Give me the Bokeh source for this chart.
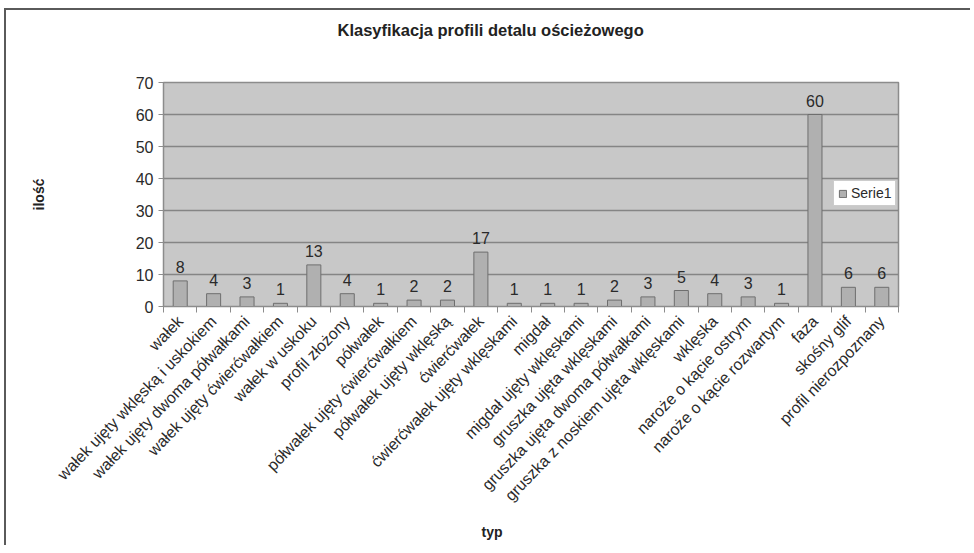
import math
from bokeh.plotting import figure
from bokeh.models import (ColumnDataSource, FixedTicker, Range1d, Legend, LegendItem, Title)
from bokeh.embed import file_html
from bokeh.resources import INLINE

categories = [
    "wałek", "wałek ujęty wklęską i uskokiem", "wałek ujęty dwoma półwałkami",
    "wałek ujęty ćwierćwałkiem", "wałek w uskoku", "profil złożony", "półwałek",
    "półwałek ujęty ćwierćwałkiem", "półwałek ujęty wklęską", "ćwierćwałek",
    "ćwierćwałek ujęty wklęskami", "migdał", "migdał ujęty wklęskami",
    "gruszka ujęta wklęskami", "gruszka ujęta dwoma półwałkami",
    "gruszka z noskiem ujęta wklęskami", "wklęska", "naroże o kącie ostrym",
    "naroże o kącie rozwartym", "faza", "skośny glif", "profil nierozpoznany",
]
values = [8, 4, 3, 1, 13, 4, 1, 2, 2, 17, 1, 1, 1, 2, 3, 5, 4, 3, 1, 60, 6, 6]
y_ticks = [0, 10, 20, 30, 40, 50, 60, 70]
series_name = "Serie1"
title_text = "Klasyfikacja profili detalu ościeżowego"
x_title = "typ"
y_title = "ilość"

FONT = "Liberation Sans"
n = len(categories)
centers = [i + 0.5 for i in range(n)]
bounds = list(range(n + 1))

src = ColumnDataSource(dict(x=centers, top=values, lab=[str(v) for v in values]))

p = figure(width=966, height=537, output_backend="svg", toolbar_location=None,
           x_range=Range1d(0, n), y_range=Range1d(0, 70),
           min_border_left=157, min_border_right=74, min_border_top=72, min_border_bottom=241)
p.styles = {"margin-left": "4px", "margin-top": "8px",
            "border-top": "2px solid #5a5a5a", "border-left": "2px solid #5a5a5a"}
p.background_fill_color = "#c8c8c8"
p.border_fill_color = "white"
p.outline_line_color = "#8c8c8c"
p.outline_line_width = 1.5

# title: spacer panel next to the frame, then the title itself further out
p.title = None
p.add_layout(Title(text=" ", standoff=26, text_font=FONT, text_font_size="10px"), "above")
p.add_layout(Title(text=title_text, align="left", offset=174, standoff=10,
                   text_font=FONT, text_font_size="16.5px", text_font_style="bold",
                   text_color="#222222"), "above")
p.add_layout(Title(text=x_title, align="left", offset=318, standoff=16,
                   text_font=FONT, text_font_size="14px", text_font_style="bold",
                   text_color="#222222"), "below")

p.xgrid.visible = False
p.ygrid.ticker = FixedTicker(ticks=y_ticks)
p.ygrid.grid_line_color = "#858585"
p.ygrid.grid_line_width = 1.5

r = p.vbar(x="x", top="top", width=0.42, source=src, fill_color="#b0b0b0",
           line_color="#6e6e6e", line_width=1)
p.text(x="x", y="top", text="lab", source=src, text_align="center",
       text_baseline="bottom", y_offset=-8, text_font_size="16px",
       text_color="#2a2a2a", text_font={"value": FONT})

# y axis
ya = p.yaxis[0]
ya.ticker = FixedTicker(ticks=y_ticks)
ya.axis_line_color = "#8c8c8c"
ya.major_tick_line_color = "#8c8c8c"
ya.major_tick_out = 5
ya.major_tick_in = 0
ya.minor_tick_line_color = None
ya.major_label_text_font = FONT
ya.major_label_text_font_size = "16px"
ya.major_label_text_color = "#2a2a2a"
ya.major_label_standoff = 5
ya.axis_label = y_title
ya.axis_label_text_font = FONT
ya.axis_label_text_font_size = "14px"
ya.axis_label_text_font_style = "bold"
ya.axis_label_text_color = "#222222"
ya.axis_label_standoff = 86

# x axis
xa = p.xaxis[0]
xa.ticker = FixedTicker(ticks=centers, minor_ticks=bounds)
xa.major_label_overrides = {c: lab for c, lab in zip(centers, categories)}
xa.major_tick_line_color = None
xa.minor_tick_line_color = "#8c8c8c"
xa.minor_tick_out = 6
xa.minor_tick_in = 0
xa.axis_line_color = "#8c8c8c"
xa.major_label_orientation = math.radians(46)
xa.major_label_text_font = FONT
xa.major_label_text_font_size = "16px"
xa.major_label_text_color = "#2a2a2a"
xa.major_label_standoff = 6

# legend kept inside the frame (annotations outside it are clipped)
legend = Legend(items=[LegendItem(label=series_name, renderers=[r])], location=(670, 100))
legend.border_line_color = "#9a9a9a"
legend.border_line_width = 1
legend.background_fill_color = "white"
legend.background_fill_alpha = 1
legend.label_text_font = FONT
legend.label_text_font_size = "14px"
legend.label_text_color = "#2a2a2a"
legend.glyph_width = 9
legend.glyph_height = 9
legend.padding = 4
legend.margin = 0
legend.spacing = 0
legend.label_standoff = 4
legend.label_height = 16
p.add_layout(legend)

open("out.html", "w").write(file_html(p, INLINE))
